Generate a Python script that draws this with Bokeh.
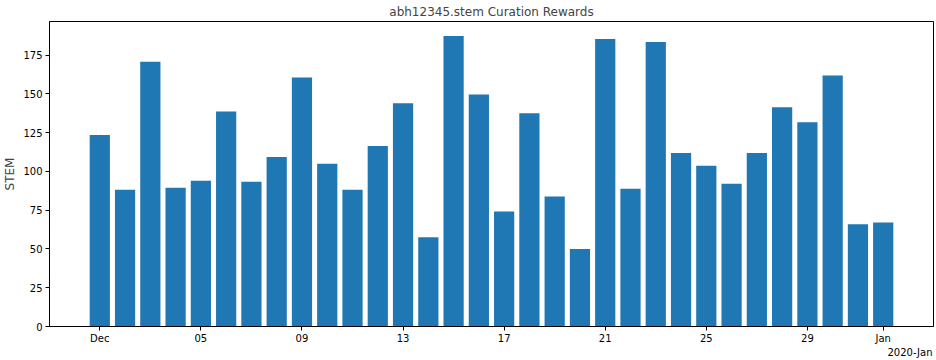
import pandas as pd
from bokeh.plotting import figure
from bokeh.models import Range1d, FixedTicker, LinearAxis, ColumnDataSource
from bokeh.embed import file_html
from bokeh.resources import INLINE

# ---- data ----
dates = ["2019-12-01", "2019-12-02", "2019-12-03", "2019-12-04", "2019-12-05", "2019-12-06",
         "2019-12-07", "2019-12-08", "2019-12-09", "2019-12-10", "2019-12-11", "2019-12-12",
         "2019-12-13", "2019-12-14", "2019-12-15", "2019-12-16", "2019-12-17", "2019-12-18",
         "2019-12-19", "2019-12-20", "2019-12-21", "2019-12-22", "2019-12-23", "2019-12-24",
         "2019-12-25", "2019-12-26", "2019-12-27", "2019-12-28", "2019-12-29", "2019-12-30",
         "2019-12-31", "2020-01-01"]
rewards = [123.4, 88.2, 170.7, 89.5, 94.0, 138.7, 93.3, 109.3, 160.5, 104.9, 88.2, 116.4,
           143.9, 57.5, 187.3, 149.6, 74.2, 137.5, 83.8, 49.9, 185.4, 88.9, 183.5, 111.9,
           103.6, 92.1, 111.9, 141.3, 131.7, 161.8, 65.9, 67.1]
tick_dates = ["2019-12-01", "2019-12-05", "2019-12-09", "2019-12-13", "2019-12-17",
              "2019-12-21", "2019-12-25", "2019-12-29", "2020-01-01"]
tick_labels = ["Dec", "05", "09", "13", "17", "21", "25", "29", "Jan"]
y_ticks = [0, 25, 50, 75, 100, 125, 150, 175]
title_text = "abh12345.stem Curation Rewards"
y_label = "STEM"
offset_text = "2020-Jan"

DAY = 86400000.0
FONT = "DejaVu Sans"
W, H = 936, 360

xs = pd.to_datetime(dates)
src = ColumnDataSource(dict(x=xs, top=rewards))

x_ms = [(d - pd.Timestamp("1970-01-01")).total_seconds() * 1000.0 for d in xs]
lo = min(x_ms) - 0.4 * DAY
hi = max(x_ms) + 0.4 * DAY
pad = 0.05 * (hi - lo)
x0, x1 = lo - pad, hi + pad
ymax = max(rewards) * 1.05

p = figure(width=W, height=H, x_axis_type="datetime", output_backend="svg",
           toolbar_location=None, x_range=Range1d(x0, x1),
           y_range=Range1d(0, ymax), min_border=0, min_border_left=46,
           min_border_right=3, min_border_top=19, min_border_bottom=33)

p.vbar(x="x", top="top", width=0.8 * DAY, source=src, fill_color="#1f77b4",
       line_color=None)

tick_ms = [(pd.Timestamp(t) - pd.Timestamp("1970-01-01")).total_seconds() * 1000.0 for t in tick_dates]
p.xaxis.ticker = FixedTicker(ticks=tick_ms)
p.xaxis.major_label_overrides = {t: l for t, l in zip(tick_ms, tick_labels)}
p.yaxis.ticker = FixedTicker(ticks=y_ticks)

p.title.text = title_text
p.title.align = "center"
p.title.text_font = FONT
p.title.text_font_size = "12px"
p.title.text_font_style = "normal"
p.title.standoff = 5
p.title.offset = 0

p.xaxis.axis_label = None
p.xaxis.axis_label_standoff = 0
p.yaxis.axis_label = y_label
p.yaxis.axis_label_text_font = FONT
p.yaxis.axis_label_text_font_size = "12px"
p.yaxis.axis_label_text_font_style = "normal"
p.yaxis.axis_label_standoff = 3

for ax in (p.xaxis, p.yaxis):
    ax.major_label_text_font = FONT
    ax.major_label_text_font_size = "10px"
    ax.major_label_text_color = "#000000"
    ax.major_tick_in = 0
    ax.major_tick_out = 4
    ax.minor_tick_in = 0
    ax.minor_tick_out = 0
    ax.major_tick_line_color = "#000000"
    ax.axis_line_color = "#000000"
    ax.major_label_standoff = 3
p.xaxis.major_label_standoff = 2

p.xgrid.grid_line_color = None
p.ygrid.grid_line_color = None
p.outline_line_color = "#000000"
p.outline_line_alpha = 1.0

# offset text ("2020-Jan") drawn as a second, tick-less axis below the first
off_pos = x1 - 0.93 * DAY
off_ax = LinearAxis(ticker=FixedTicker(ticks=[off_pos]),
                    major_label_overrides={off_pos: offset_text},
                    major_label_text_font=FONT, major_label_text_font_size="10px",
                    major_label_text_color="#000000", major_label_standoff=0,
                    major_tick_in=0, major_tick_out=0, minor_tick_in=0,
                    minor_tick_out=0, axis_line_color=None, axis_label=None,
                    axis_label_standoff=0)
p.add_layout(off_ax, "below")

open("out.html", "w").write(file_html(p, INLINE))
